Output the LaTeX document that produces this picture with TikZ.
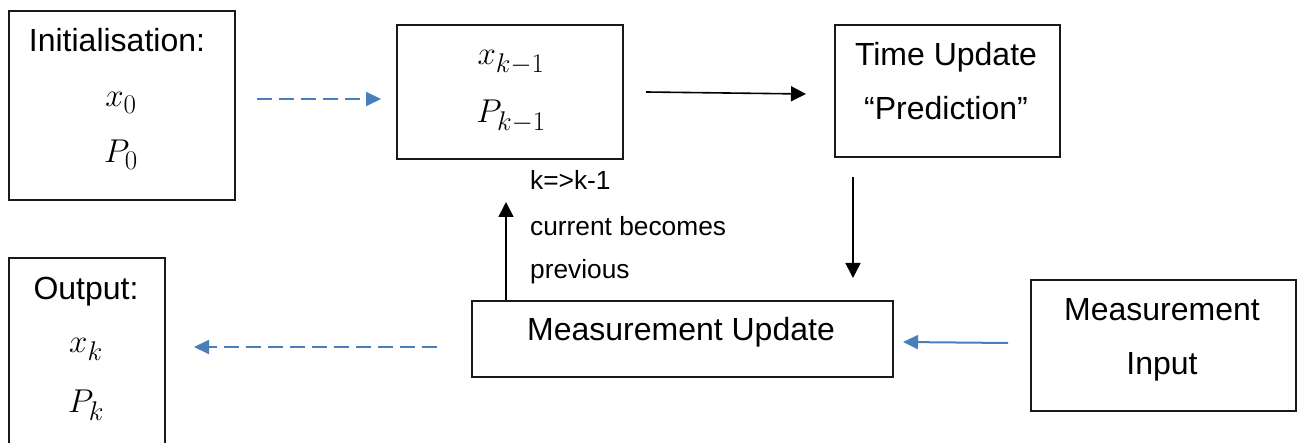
\RequirePackage{fix-cm}
\documentclass[tikz,border=0pt]{standalone}
\usepackage{fontspec}
\setmainfont{Liberation Sans}
\usetikzlibrary{arrows.meta}
\DeclareMathSizes{33}{33}{27}{22}
\definecolor{arrowblue}{RGB}{74,126,187}
\begin{document}
\begin{tikzpicture}[x=1pt,y=-1pt,
  box/.style={draw=black!90,line width=1.6pt,inner sep=0pt,anchor=north west},
  txt/.style={anchor=base,inner sep=0pt,font=\fontsize{32}{38}\selectfont},
  mth/.style={anchor=base,inner sep=0pt,font=\fontsize{33}{40}\selectfont},
  lbl/.style={anchor=base west,inner sep=0pt,font=\fontsize{26.3}{31}\selectfont},
  blk/.style={line width=1.6pt,-{Triangle[length=15pt,width=15pt]}},
  bluedash/.style={arrowblue,line width=2pt,dash pattern=on 15pt off 7pt,-{Triangle[length=15pt,width=14pt]}},
  bluesolid/.style={arrowblue,line width=2pt,-{Triangle[length=15pt,width=14pt]}}]
\clip (0,0) rectangle (1299,443);
\fill[white] (0,0) rectangle (1299,443);
% boxes
\node[box,minimum width=226pt,minimum height=189pt] (init) at (8,10) {};
\node[box,minimum width=226pt,minimum height=134pt] (prev) at (396,24) {};
\node[box,minimum width=225pt,minimum height=132pt] (time) at (834,24) {};
\node[box,minimum width=421pt,minimum height=76pt] (mu) at (471,300) {};
\node[box,minimum width=265pt,minimum height=131pt] (mi) at (1030,279) {};
\node[box,minimum width=156pt,minimum height=200pt] (out) at (8,257) {};
% texts
\node[txt] (initT) at (117,52) {Initialisation:};
\node[mth] (initX) at (121,107) {$x_0$};
\node[mth] (initP) at (121,163) {$P_0$};
\node[mth] (prevX) at (511,65) {$x_{k-1}$};
\node[mth] (prevP) at (511,123) {$P_{k-1}$};
\node[txt] (timeA) at (946,66) {Time Update};
\node[txt] (timeB) at (946,120) {“Prediction”};
\node[txt] (muT) at (681,341) {Measurement Update};
\node[txt] (miA) at (1162,321) {Measurement};
\node[txt] (miB) at (1162,375) {Input};
\node[txt] (outT) at (86,300) {Output:};
\node[mth] (outX) at (86,353) {$x_k$};
\node[mth] (outP) at (86,413) {$P_k$};
\node[lbl] (l1) at (530,190) {k=>k-1};
\node[lbl] (l2) at (530,236) {current becomes};
\node[lbl] (l3) at (530,279) {previous};
% connector end points
\coordinate (a1s) at (257,99);
\coordinate (a1e) at (381,99);
\coordinate (a2s) at (646,92);
\coordinate (a2e) at (806,94);
\coordinate (a3s) at (853,177);
\coordinate (a3e) at (853,278);
\coordinate (a4e) at (506,202);
\coordinate (a5s) at (1008,343);
\coordinate (a5e) at (903,342);
\coordinate (a6s) at (437,347);
\coordinate (a6e) at (194,347);
% connectors
\draw[bluedash] (a1s) -- (a1e);
\draw[blk] (a2s) -- (a2e);
\draw[blk] (a3s) -- (a3e);
\draw[blk] (mu.north west -| a4e) -- (a4e);
\draw[bluesolid] (a5s) -- (a5e);
\draw[bluedash] (a6s) -- (a6e);
\end{tikzpicture}
\end{document}
